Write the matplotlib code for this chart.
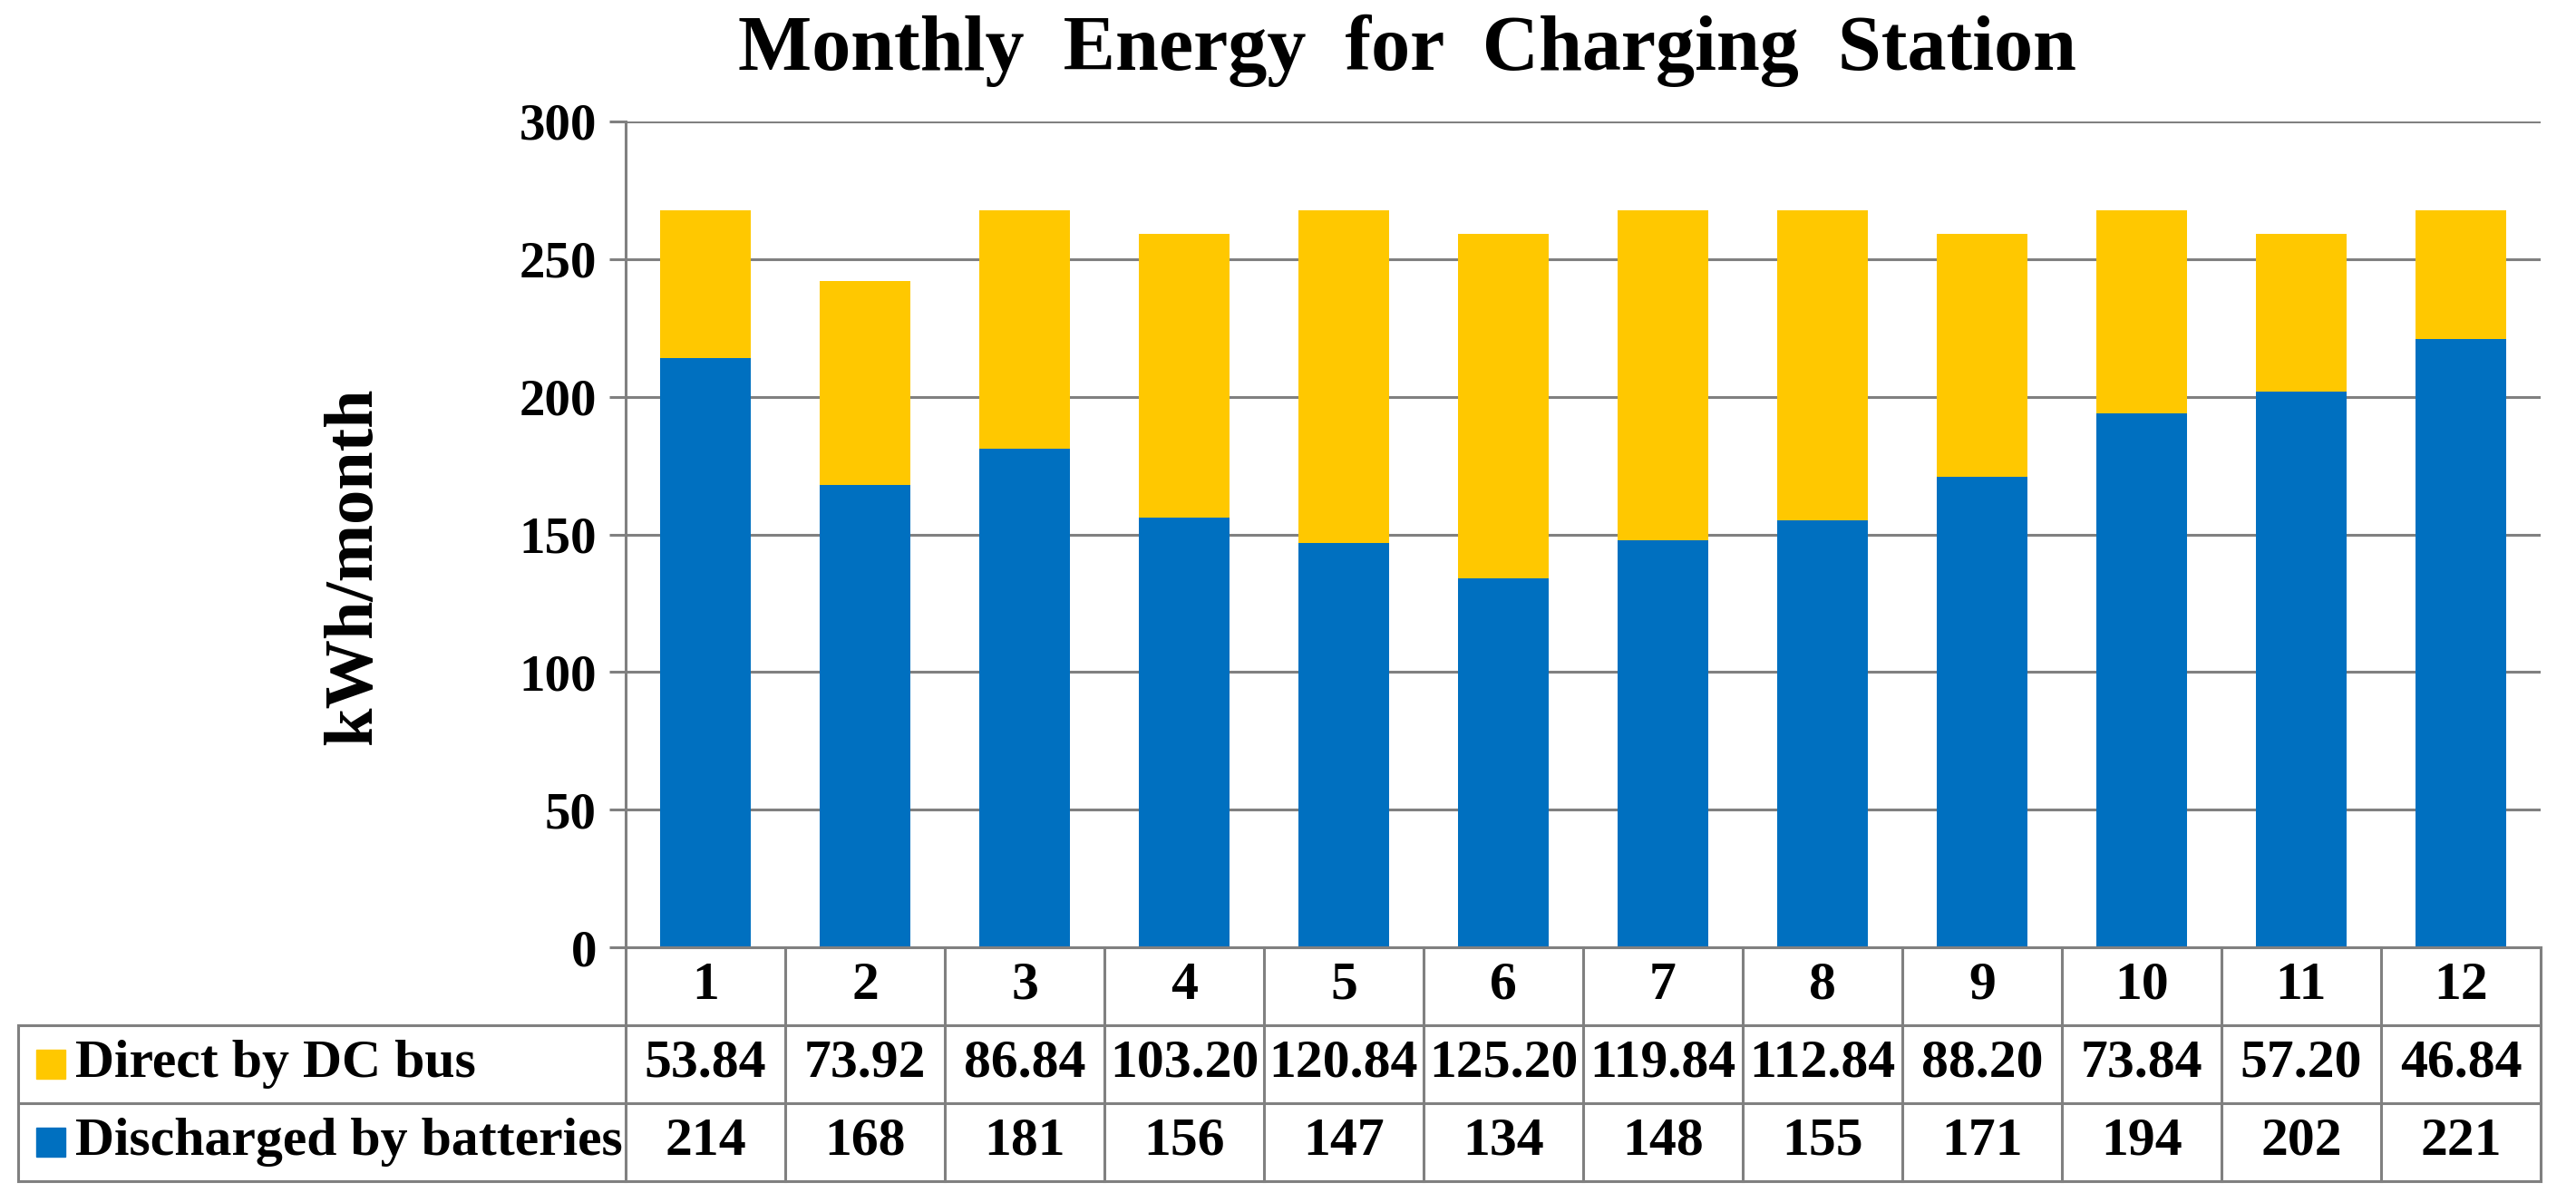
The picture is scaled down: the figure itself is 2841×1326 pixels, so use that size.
import matplotlib.pyplot as plt
from matplotlib.patches import Rectangle

# monthly energy (kWh/month)
months = [1, 2, 3, 4, 5, 6, 7, 8, 9, 10, 11, 12]
direct_dc = [53.84, 73.92, 86.84, 103.20, 120.84, 125.20, 119.84, 112.84, 88.20, 73.84, 57.20, 46.84]
batteries = [214, 168, 181, 156, 147, 134, 148, 155, 171, 194, 202, 221]
series_names = ["Direct by DC bus", "Discharged by batteries"]
yticks = [0, 50, 100, 150, 200, 250, 300]

blue = "#0070C0"
yellow = "#FFC800"
grey = "#808080"

plt.rcParams['font.family'] = ['Liberation Serif', 'DejaVu Serif']
plt.rcParams['font.weight'] = 'bold'

W, H = 2841, 1326
fig = plt.figure(figsize=(W / 100, H / 100), dpi=100)

# pixel layout
ax_l, ax_r, ax_t, ax_b = 690, 2802, 134, 1045
tb_l, tb_b = 20, 1303

ax = fig.add_axes([ax_l / W, 1 - ax_b / H, (ax_r - ax_l) / W, (ax_b - ax_t) / H])
ax.bar(months, batteries, width=0.57, color=blue, zorder=3)
ax.bar(months, direct_dc, width=0.57, bottom=batteries, color=yellow, zorder=3)
ax.set_xlim(0.5, 12.5)
ax.set_ylim(0, 300)
ax.set_yticks(yticks)
ax.set_xticks([])
ax.yaxis.grid(True, color=grey, linewidth=2.2, zorder=0)
for s in ['top', 'right', 'bottom']:
    ax.spines[s].set_visible(False)
ax.spines['left'].set_color(grey)
ax.spines['left'].set_linewidth(2.2)
ax.tick_params(axis='y', length=13, width=2.2, color=grey, pad=10, labelsize=41)

fig.text(391 / W, 1 - 625 / H, "kWh/month", rotation=90, ha='center', va='center',
         fontsize=55, fontweight='bold')
fig.text(1552 / W, 1 - 56 / H, "Monthly  Energy  for  Charging  Station",
         ha='center', va='center', fontsize=62, fontweight='bold')

# data table under the plot, columns aligned with the bars
unit = (ax_r - ax_l) / 12
x0 = 0.5 - (ax_l - tb_l) / unit
tb = fig.add_axes([tb_l / W, 1 - tb_b / H, (ax_r - tb_l) / W, (tb_b - ax_b) / H])
tb.set_xlim(x0, 12.5)
tb.set_ylim(0, 3)
tb.axis('off')

lw = 2.2
tb.plot([0.5, 12.5], [3, 3], color=grey, lw=lw, clip_on=False)
for y in [0, 1, 2]:
    tb.plot([x0, 12.5], [y, y], color=grey, lw=lw, clip_on=False)
tb.plot([x0, x0], [0, 2], color=grey, lw=lw, clip_on=False)
for k in range(13):
    tb.plot([k + 0.5, k + 0.5], [0, 3], color=grey, lw=lw, clip_on=False)

fs = 43
for i, m in enumerate(months):
    tb.text(m, 2.5, str(m), ha='center', va='center', fontsize=fs, fontweight='bold')
    tb.text(m, 1.5, f"{direct_dc[i]:.2f}", ha='center', va='center', fontsize=fs, fontweight='bold')
    tb.text(m, 0.5, str(batteries[i]), ha='center', va='center', fontsize=fs, fontweight='bold')

sq_w = 32 / unit
for row, name, col in [(1.5, series_names[0], yellow), (0.5, series_names[1], blue)]:
    tb.add_patch(Rectangle((x0 + 20 / unit, row - 0.19), sq_w, 0.38, color=col, clip_on=False))
    tb.text(x0 + 63 / unit, row, name, ha='left', va='center', fontsize=fs, fontweight='bold')

fig.savefig("out.png", dpi=100)
